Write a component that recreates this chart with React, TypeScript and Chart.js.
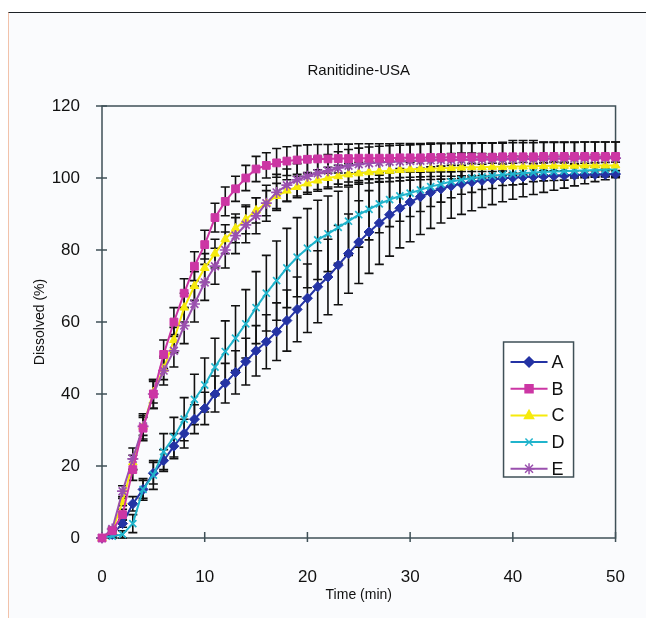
import React, { useEffect, useRef } from "react";
import { Chart, registerables } from "chart.js";

Chart.register(...registerables);

// Time points (min)
const TIMES: number[] = Array.from({ length: 51 }, (_, i) => i);

// Mean dissolved (%) per formulation
const SERIES_A: number[] = [0, 1, 4, 9.5, 13.5, 18, 21.5, 25.5, 29, 33, 36, 40, 43, 46, 49, 52, 54.5, 57.3, 60.4, 63.5, 66.6, 69.8, 72.5, 75.8, 79, 82.2, 85, 87.5, 89.8, 91.6, 93.3, 94.8, 96, 97, 97.8, 98.4, 98.9, 99.3, 99.6, 99.9, 100.1, 100.3, 100.4, 100.5, 100.6, 100.7, 100.8, 100.9, 101, 101, 101.1];
const SERIES_B: number[] = [0, 2, 6.5, 19, 30.5, 40, 51, 60, 68, 75.5, 81.5, 89, 93.5, 97, 100, 102.5, 103.5, 104.2, 104.7, 105, 105.2, 105.3, 105.3, 105.4, 105.4, 105.5, 105.5, 105.5, 105.5, 105.6, 105.6, 105.6, 105.7, 105.7, 105.7, 105.8, 105.8, 105.8, 105.8, 105.9, 105.9, 105.9, 105.9, 106, 106, 106, 106, 106, 106, 106, 106];
const SERIES_C: number[] = [0, 2, 10, 21, 31, 40.5, 47, 55, 64, 70, 75, 79, 83, 86, 88.5, 91, 93, 95, 96.5, 97.5, 98.5, 99.3, 100, 100.5, 101, 101.3, 101.6, 101.8, 102, 102.2, 102.4, 102.5, 102.6, 102.7, 102.8, 102.9, 103, 103, 103.1, 103.1, 103.2, 103.2, 103.3, 103.3, 103.4, 103.4, 103.4, 103.5, 103.5, 103.5, 103.5];
const SERIES_D: number[] = [0, 0.5, 1, 4, 13.5, 17.5, 24, 28, 33, 38.5, 42.5, 47.5, 51.8, 55.5, 59.5, 64, 68, 71.5, 75, 78, 80.5, 82.8, 84.5, 86.3, 88, 89.8, 91.3, 92.8, 94, 95, 95.8, 96.7, 97.6, 98.3, 99, 99.5, 100, 100.3, 100.6, 100.9, 101.1, 101.3, 101.5, 101.7, 101.8, 101.9, 102, 102.1, 102.2, 102.3, 102.4];
const SERIES_E: number[] = [0, 2.5, 13, 22, 31, 40, 46.5, 52, 59, 65, 71, 75.5, 80, 84, 87, 89.5, 93, 96, 98, 99.5, 100.5, 101.3, 102, 102.8, 103.4, 103.8, 104.1, 104.3, 104.5, 104.6, 104.7, 104.8, 104.9, 105, 105, 105.1, 105.1, 105.2, 105.2, 105.2, 105.3, 105.3, 105.3, 105.4, 105.4, 105.4, 105.4, 105.5, 105.5, 105.5, 105.5];

// Standard deviations (error bars)
const SD_A: number[] = [0, 0.5, 1, 2, 2.5, 3, 3, 3.5, 4, 4, 4.5, 5, 5.5, 6, 6.5, 7, 7.5, 8, 8.5, 9, 9.5, 10, 10.5, 11, 11, 11.5, 11.5, 11.5, 11.5, 11, 11, 10.5, 10, 9.5, 9, 8.5, 8, 7.5, 7, 6.5, 6, 5.5, 5, 4.5, 4, 3.5, 3, 2.5, 2, 1.5, 1];
const SD_B: number[] = [0, 0.5, 1.5, 3, 3.5, 4, 4, 4, 4, 4, 4, 4, 4, 3.5, 3.5, 3.5, 3.5, 4, 4, 4, 4, 4, 4, 4, 4, 4, 4, 4, 4, 4, 4, 4, 4, 4, 4, 4, 4, 4, 4, 4, 4.5, 4.5, 4.5, 4, 4, 4, 4, 4, 4, 4, 4];
const SD_C: number[] = [0, 0.5, 1, 2, 2.5, 3, 3, 3.5, 4, 4, 4, 4, 4, 4, 4, 3.5, 3.5, 3.5, 3, 3, 3, 3, 3, 3, 3, 3, 3, 3, 3, 3, 3, 3, 3, 3, 3, 3, 3, 3, 3, 3, 3, 3, 3, 3, 3, 3, 3, 3, 3, 3, 3];
const SD_D: number[] = [0, 0.5, 1, 2.5, 3, 4, 5, 5.5, 6, 7, 7.5, 8, 8.5, 9, 9.5, 10, 10.5, 11, 11, 11, 11, 11, 10.5, 10, 9.5, 9, 8.5, 8, 7.5, 7, 6.5, 6, 5.5, 5, 4.5, 4, 4, 3.5, 3.5, 3, 3, 3, 2.5, 2.5, 2.5, 2.5, 2, 2, 2, 2, 2];
const SD_E: number[] = [0, 0.5, 1.5, 3, 3.5, 4, 4, 4.5, 5, 5, 5, 5, 5, 5, 5, 5, 5, 5, 4.5, 4.5, 4.5, 4.5, 4.5, 4.5, 4.5, 4.5, 4.5, 4.5, 4.5, 4.5, 4.5, 4.5, 4.5, 4.5, 4.5, 4.5, 4.5, 4.5, 4.5, 4.5, 4.5, 4.5, 4.5, 4.5, 4.5, 4.5, 4.5, 4.5, 4.5, 4.5, 4.5];

const LABELS: string[] = ["A", "B", "C", "D", "E"];
const COLORS: string[] = ["#2433a4", "#cc36a4", "#f6ea0c", "#20b4cc", "#9a50ae"];
const POINT_STYLES: string[] = ["rectRot", "rect", "triangle", "crossRot", "star"];
const POINT_SIZES: number[] = [5, 5.5, 5, 5, 5.5];
const ORDERS: number[] = [5, 1, 3, 4, 2];

const Y_TICKS: number[] = [0, 20, 40, 60, 80, 100, 120];
const X_TICKS: number[] = [0, 10, 20, 30, 40, 50];

const TITLE = "Ranitidine-USA";

const VALUES = [SERIES_A, SERIES_B, SERIES_C, SERIES_D, SERIES_E];
const SDS = [SD_A, SD_B, SD_C, SD_D, SD_E];

const FONT = "'Liberation Sans', Arial, Helvetica, sans-serif";
const AXIS_COLOR = "#3f5057";

const errorBarPlugin = {
  id: "errorBars",
  beforeDatasetsDraw(chart: any) {
    const { ctx, scales } = chart;
    const x = scales.x;
    const y = scales.y;
    ctx.save();
    ctx.strokeStyle = "#111111";
    ctx.lineWidth = 1.6;
    VALUES.forEach((vals, si) => {
      const sds = SDS[si];
      TIMES.forEach((t, i) => {
        const sd = sds[i];
        if (!sd) return;
        const px = x.getPixelForValue(t);
        const top = y.getPixelForValue(vals[i] + sd);
        const bot = y.getPixelForValue(vals[i] - sd);
        ctx.beginPath();
        ctx.moveTo(px, top);
        ctx.lineTo(px, bot);
        ctx.moveTo(px - 4.5, top);
        ctx.lineTo(px + 4.5, top);
        ctx.moveTo(px - 4.5, bot);
        ctx.lineTo(px + 4.5, bot);
        ctx.stroke();
      });
    });
    ctx.restore();
  },
};

const frameBoxPlugin = {
  id: "frameBox",
  beforeDatasetsDraw(chart: any) {
    const { ctx, chartArea, scales } = chart;
    const { left, right, top, bottom } = chartArea;
    ctx.save();
    ctx.strokeStyle = AXIS_COLOR;
    ctx.lineWidth = 1.5;
    ctx.strokeRect(left, top, right - left, bottom - top);
    ctx.beginPath();
    scales.y.ticks.forEach((tk: any) => {
      const py = scales.y.getPixelForValue(tk.value);
      ctx.moveTo(left - 6, py);
      ctx.lineTo(left + 5, py);
    });
    scales.x.ticks.forEach((tk: any) => {
      const px = scales.x.getPixelForValue(tk.value);
      ctx.moveTo(px, bottom - 6);
      ctx.lineTo(px, bottom + 4);
    });
    ctx.stroke();
    ctx.restore();
  },
};

const titlePlugin = {
  id: "plotTitle",
  afterDraw(chart: any) {
    const { ctx, chartArea } = chart;
    ctx.save();
    ctx.fillStyle = "#111111";
    ctx.font = `15px ${FONT}`;
    ctx.textAlign = "center";
    ctx.textBaseline = "middle";
    ctx.fillText(TITLE, (chartArea.left + chartArea.right) / 2, chartArea.top - 35);
    ctx.restore();
  },
};

function drawMarker(ctx: CanvasRenderingContext2D, style: string, x: number, y: number, r: number, stroke: string, fill: string) {
  ctx.save();
  ctx.strokeStyle = stroke;
  ctx.fillStyle = fill;
  ctx.lineWidth = 1.5;
  ctx.beginPath();
  if (style === "rectRot") {
    ctx.moveTo(x, y - r);
    ctx.lineTo(x + r, y);
    ctx.lineTo(x, y + r);
    ctx.lineTo(x - r, y);
    ctx.closePath();
    ctx.fill();
    ctx.stroke();
  } else if (style === "rect") {
    const s = r * 0.72;
    ctx.rect(x - s, y - s, 2 * s, 2 * s);
    ctx.fill();
    ctx.stroke();
  } else if (style === "triangle") {
    ctx.moveTo(x, y - r);
    ctx.lineTo(x + r * 0.9, y + r * 0.6);
    ctx.lineTo(x - r * 0.9, y + r * 0.6);
    ctx.closePath();
    ctx.fill();
    ctx.stroke();
  } else if (style === "crossRot") {
    const s = r * 0.72;
    ctx.moveTo(x - s, y - s);
    ctx.lineTo(x + s, y + s);
    ctx.moveTo(x + s, y - s);
    ctx.lineTo(x - s, y + s);
    ctx.stroke();
  } else {
    const s = r * 0.72;
    ctx.moveTo(x - s, y - s);
    ctx.lineTo(x + s, y + s);
    ctx.moveTo(x + s, y - s);
    ctx.lineTo(x - s, y + s);
    ctx.moveTo(x, y - r);
    ctx.lineTo(x, y + r);
    ctx.moveTo(x - r, y);
    ctx.lineTo(x + r, y);
    ctx.stroke();
  }
  ctx.restore();
}

const legendPlugin = {
  id: "boxLegend",
  afterDraw(chart: any) {
    const { ctx, chartArea } = chart;
    const w = 70;
    const h = 135;
    const bx = chartArea.right - 42 - w;
    const by = chartArea.top + 236;
    ctx.save();
    ctx.fillStyle = "#ffffff";
    ctx.fillRect(bx, by, w, h);
    ctx.strokeStyle = AXIS_COLOR;
    ctx.lineWidth = 1.5;
    ctx.strokeRect(bx, by, w, h);
    const rowH = 26.7;
    chart.data.datasets.forEach((ds: any, i: number) => {
      const cy = by + 20 + i * rowH;
      ctx.strokeStyle = ds.borderColor;
      ctx.lineWidth = 2;
      ctx.beginPath();
      ctx.moveTo(bx + 7, cy);
      ctx.lineTo(bx + 44, cy);
      ctx.stroke();
      drawMarker(ctx, ds.pointStyle, bx + 25.5, cy, ds.pointRadius, ds.borderColor, ds.pointBackgroundColor);
      ctx.fillStyle = "#111111";
      ctx.font = `18px ${FONT}`;
      ctx.textBaseline = "middle";
      ctx.textAlign = "left";
      ctx.fillText(ds.label, bx + 48, cy + 1);
    });
    ctx.restore();
  },
};

export default function App() {
  const canvasRef = useRef<HTMLCanvasElement | null>(null);

  useEffect(() => {
    if (!canvasRef.current) return;
    const datasets = VALUES.map((vals, i) => ({
      label: LABELS[i],
      data: TIMES.map((t, j) => ({ x: t, y: vals[j] })),
      borderColor: COLORS[i],
      backgroundColor: COLORS[i],
      pointBackgroundColor: COLORS[i],
      pointBorderColor: COLORS[i],
      pointStyle: POINT_STYLES[i],
      pointRadius: POINT_SIZES[i],
      pointBorderWidth: i === 3 || i === 4 ? 1.7 : 1,
      borderWidth: 2,
      tension: 0,
      fill: false,
      order: ORDERS[i],
      clip: false as any,
    }));

    const chart = new Chart(canvasRef.current, {
      type: "line",
      data: { datasets },
      plugins: [frameBoxPlugin, errorBarPlugin, legendPlugin, titlePlugin],
      options: {
        animation: false,
        responsive: false,
        devicePixelRatio: 1,
        layout: { padding: { left: 0, right: 27, top: 106, bottom: 0 } },
        plugins: {
          legend: { display: false },
          tooltip: { enabled: false },
          title: { display: false },
        },
        scales: {
          x: {
            type: "linear",
            min: 0,
            max: 50,
            afterFit: (s: any) => {
              s.height = 80;
            },
            afterBuildTicks: (s: any) => {
              s.ticks = X_TICKS.map((v) => ({ value: v }));
            },
            grid: { display: false },
            border: { display: false },
            ticks: {
              color: "#111111",
              font: { family: FONT, size: 17 },
              padding: 21,
              maxRotation: 0,
            },
            title: {
              display: true,
              text: "Time (min)",
              color: "#111111",
              font: { family: FONT, size: 14 },
              padding: { top: 4, bottom: 14 },
            },
          },
          y: {
            type: "linear",
            min: 0,
            max: 120,
            afterFit: (s: any) => {
              s.width = 102;
            },
            afterBuildTicks: (s: any) => {
              s.ticks = Y_TICKS.map((v) => ({ value: v }));
            },
            grid: { display: false },
            border: { display: false },
            ticks: {
              color: "#111111",
              font: { family: FONT, size: 17 },
              padding: 14,
            },
            title: {
              display: true,
              text: "Dissolved (%)",
              color: "#111111",
              font: { family: FONT, size: 14 },
              padding: { top: 32, bottom: 0 },
            },
          },
        },
      } as any,
    });
    return () => chart.destroy();
  }, []);

  return (
    <div style={{ position: "absolute", left: 0, top: 0, width: 646, height: 618, overflow: "hidden", background: "#ffffff" }}>
      <div
        style={{
          position: "absolute",
          left: 8,
          top: 12,
          right: 0,
          bottom: 0,
          borderTop: "1.5px solid #1c2226",
          borderLeft: "1.5px solid #f2c2aa",
          background: "#fafbfd",
        }}
      />
      <canvas ref={canvasRef} width={646} height={618} style={{ position: "absolute", left: 0, top: 0, width: 646, height: 618 }} />
    </div>
  );
}
